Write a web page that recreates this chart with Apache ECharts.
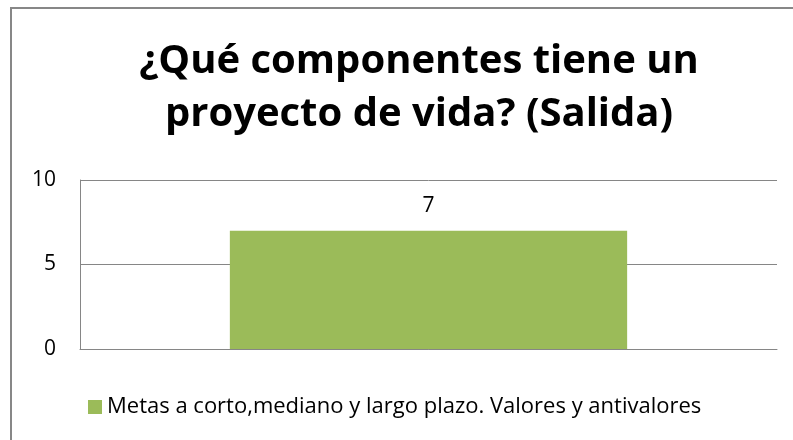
<!DOCTYPE html>
<html>
<head>
<meta charset="UTF-8" />
<title></title>
<script src="https://cdn.jsdelivr.net/npm/echarts@6/dist/echarts.min.js"></script>
<style>
  body { margin: 0; background: #fff; }
  #main { width: 793px; height: 440px; }
</style>
</head>
<body>
<div id="main"></div>
<script>
  var titleText = '¿Qué componentes tiene un\nproyecto de vida? (Salida)';
  var categories = ['Metas a corto,mediano y largo plazo. Valores y antivalores'];
  var seriesName = 'Metas a corto,mediano y largo plazo. Valores y antivalores';
  var values = [7];
  var yTicks = { min: 0, max: 10, interval: 5 };

  var myChart = echarts.init(document.getElementById('main'));
  myChart.setOption({
    animation: false,
    backgroundColor: '#ffffff',
    graphic: [{
      type: 'rect',
      shape: { x: 11, y: 8, width: 820, height: 460 },
      style: { fill: 'none', stroke: '#878787', lineWidth: 2 },
      silent: true
    }],
    title: {
      text: titleText,
      left: 414,
      top: 30,
      textAlign: 'center',
      textStyle: {
        fontFamily: 'Open Sans',
        fontWeight: 'bold',
        fontSize: 40,
        lineHeight: 53,
        color: '#000'
      }
    },
    legend: {
      data: [seriesName],
      left: 83,
      top: 391,
      itemWidth: 14,
      itemHeight: 14,
      itemGap: 6,
      icon: 'rect',
      textStyle: { fontFamily: 'Open Sans', fontSize: 22, color: '#000' }
    },
    grid: { left: 80, right: 16, top: 180, bottom: 91, containLabel: false },
    xAxis: {
      type: 'category',
      data: categories,
      axisLine: { lineStyle: { color: '#868686', width: 1 } },
      axisTick: { show: false },
      axisLabel: { show: false }
    },
    yAxis: {
      type: 'value',
      min: yTicks.min,
      max: yTicks.max,
      interval: yTicks.interval,
      axisLine: { show: true, lineStyle: { color: '#868686', width: 1 } },
      axisTick: { show: false },
      axisLabel: { fontFamily: 'Open Sans', fontSize: 21, color: '#000', margin: 24 },
      splitLine: { lineStyle: { color: '#868686', width: 1 } }
    },
    series: [{
      name: seriesName,
      type: 'bar',
      data: values,
      barWidth: '57%',
      itemStyle: { color: '#9BBB59' },
      label: {
        show: true,
        position: 'top',
        distance: 14,
        fontFamily: 'Open Sans',
        fontSize: 21,
        color: '#000'
      }
    }]
  });
</script>
</body>
</html>
